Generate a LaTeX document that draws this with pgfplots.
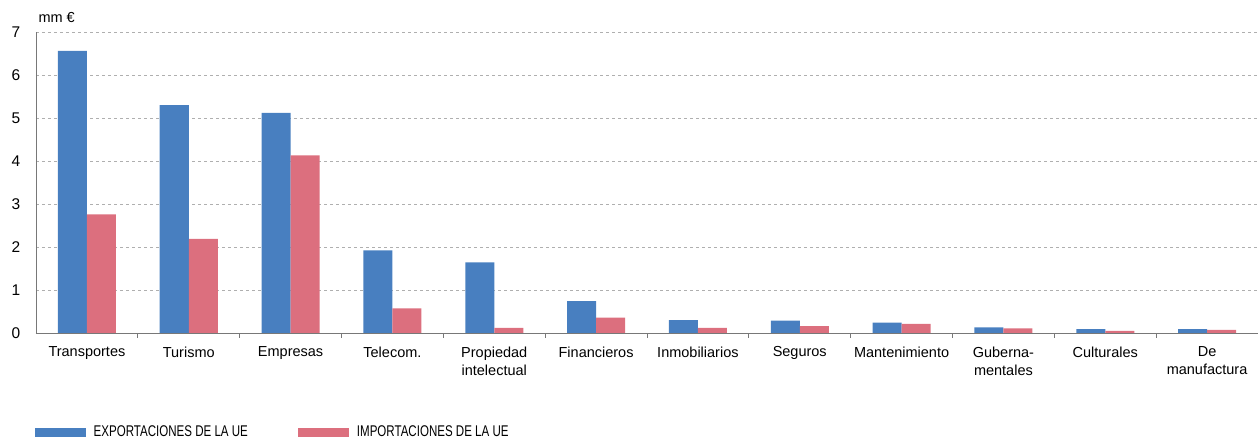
\documentclass[border=0pt]{standalone}
\usepackage{fontspec}
\setmainfont{Liberation Sans}
\newfontfamily\condensed[FakeStretch=0.745]{Liberation Sans}
\usepackage{pgfplots}
\pgfplotsset{compat=1.18}
\definecolor{cblue}{RGB}{72,127,192}
\definecolor{cred}{RGB}{220,111,126}
\definecolor{cgrid}{RGB}{175,175,175}
\definecolor{caxis}{RGB}{120,120,120}
\begin{document}
\begin{tikzpicture}
\path[use as bounding box] (-36pt,-108pt) rectangle (1222pt,333pt);
\begin{axis}[
  at={(0pt,0pt)}, anchor=south west,
  scale only axis, width=1222pt, height=301pt,
  xmin=-0.5, xmax=11.5, ymin=0, ymax=7,
  ybar=0pt, bar width=29pt,
  axis lines=left, axis line style={-, caxis, line width=0.8pt},
  xtick={0,...,11},
  xticklabels={Transportes,Turismo,Empresas,Telecom.,Propiedad\\intelectual,Financieros,Inmobiliarios,Seguros,Mantenimiento,Guberna-\\mentales,Culturales,De\\manufactura},
  xticklabel style={align=center, font=\fontsize{14.5}{18}\selectfont, yshift=-6pt},
  major x tick style={draw=none},
  minor xtick={0.5,1.5,...,10.5},
  minor tick length=5pt, tick align=outside,
  minor x tick style={caxis, line width=0.8pt},
  ytick={0,...,7},
  major y tick style={draw=none},
  yticklabel style={font=\fontsize{15.5}{18}\selectfont, xshift=-8pt},
  /pgf/number format/assume math mode=true,
  ymajorgrids, grid style={cgrid, dashed, line width=0.6pt},
  ylabel={mm €},
  ylabel style={rotate=-90, at={(axis description cs:0,1)}, anchor=south west, font=\fontsize{14.5}{16}\selectfont, yshift=6pt, xshift=-1pt},
  legend columns=2,
  legend style={at={(axis description cs:-0.0012,-0.329)}, anchor=west, draw=none, inner xsep=0pt, inner ysep=0pt,
    font=\condensed\fontsize{15.5}{17}\selectfont,
    /tikz/every even column/.append style={column sep=42pt},
    nodes={inner xsep=8pt}},
  legend image code/.code={\fill[#1] (0pt,-4.5pt) rectangle (51pt,4.5pt);},
  clip=false,
]
\addplot[fill=cblue, draw=none] coordinates {
(0,6.56) (1,5.30) (2,5.12) (3,1.92) (4,1.64) (5,0.74) (6,0.30) (7,0.29) (8,0.24) (9,0.13) (10,0.09) (11,0.09)};
\addplot[fill=cred, draw=none] coordinates {
(0,2.76) (1,2.19) (2,4.13) (3,0.57) (4,0.12) (5,0.36) (6,0.12) (7,0.16) (8,0.21) (9,0.11) (10,0.05) (11,0.07)};
\legend{EXPORTACIONES DE LA UE, IMPORTACIONES DE LA UE}
\end{axis}
\end{tikzpicture}
\end{document}
